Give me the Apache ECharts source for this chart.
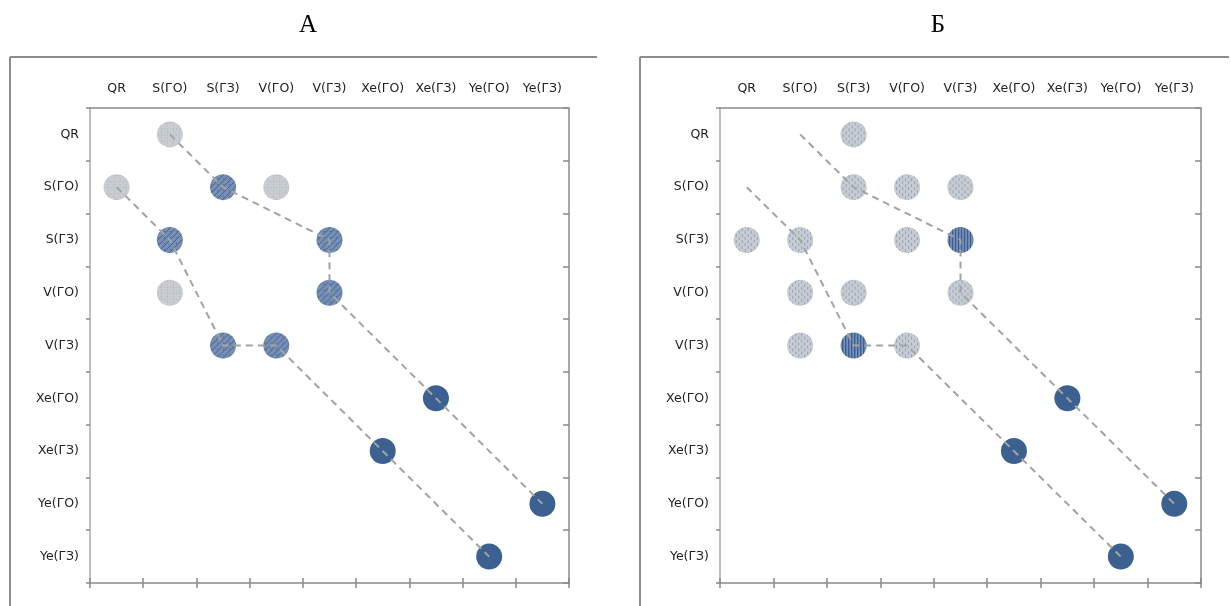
<!DOCTYPE html>
<html><head><meta charset="utf-8">
<script src="https://cdn.jsdelivr.net/npm/echarts@6/dist/echarts.min.js"></script>
<style>html,body{margin:0;padding:0;background:#fff}#c{width:1231px;height:606px}</style>
</head><body><div id="c"></div>
<script>
const categories = ['QR','S(ГО)','S(ГЗ)','V(ГО)','V(ГЗ)','Xe(ГО)','Xe(ГЗ)','Ye(ГО)','Ye(ГЗ)'];
const panelTitles = ['А','Б'];

// Panel A points [column, row]
const aGray = [['S(ГО)','QR'],['QR','S(ГО)'],['V(ГО)','S(ГО)'],['S(ГО)','V(ГО)']];
const aHatched = [['S(ГЗ)','S(ГО)'],['S(ГО)','S(ГЗ)'],['V(ГЗ)','S(ГЗ)'],['V(ГЗ)','V(ГО)'],['S(ГЗ)','V(ГЗ)'],['V(ГО)','V(ГЗ)']];
const aSolid = [['Xe(ГЗ)','Xe(ГО)'],['Xe(ГО)','Xe(ГЗ)'],['Ye(ГЗ)','Ye(ГО)'],['Ye(ГО)','Ye(ГЗ)']];
const aPath1 = [['S(ГО)','QR'],['S(ГЗ)','S(ГО)'],['V(ГЗ)','S(ГЗ)'],['V(ГЗ)','V(ГО)'],['Xe(ГЗ)','Xe(ГО)'],['Ye(ГЗ)','Ye(ГО)']];
const aPath2 = [['QR','S(ГО)'],['S(ГО)','S(ГЗ)'],['S(ГЗ)','V(ГЗ)'],['V(ГО)','V(ГЗ)'],['Xe(ГО)','Xe(ГЗ)'],['Ye(ГО)','Ye(ГЗ)']];

// Panel Б points
const bGray = [['S(ГЗ)','QR'],['S(ГЗ)','S(ГО)'],['V(ГО)','S(ГО)'],['V(ГЗ)','S(ГО)'],['QR','S(ГЗ)'],['S(ГО)','S(ГЗ)'],['V(ГО)','S(ГЗ)'],['S(ГО)','V(ГО)'],['S(ГЗ)','V(ГО)'],['V(ГЗ)','V(ГО)'],['S(ГО)','V(ГЗ)'],['V(ГО)','V(ГЗ)']];
const bHatched = [['V(ГЗ)','S(ГЗ)'],['S(ГЗ)','V(ГЗ)']];
const bSolid = [['Xe(ГЗ)','Xe(ГО)'],['Xe(ГО)','Xe(ГЗ)'],['Ye(ГЗ)','Ye(ГО)'],['Ye(ГО)','Ye(ГЗ)']];
const bPath1 = [['S(ГО)','QR'],['S(ГЗ)','S(ГО)'],['V(ГЗ)','S(ГЗ)'],['V(ГЗ)','V(ГО)'],['Xe(ГЗ)','Xe(ГО)'],['Ye(ГЗ)','Ye(ГО)']];
const bPath2 = [['QR','S(ГО)'],['S(ГО)','S(ГЗ)'],['S(ГЗ)','V(ГЗ)'],['V(ГО)','V(ГЗ)'],['Xe(ГО)','Xe(ГЗ)'],['Ye(ГО)','Ye(ГЗ)']];

const SYM = 26;
function pat(base, ink, kind){
  const c=document.createElement('canvas'); c.width=6; c.height=6;
  const g=c.getContext('2d'); g.fillStyle=base; g.fillRect(0,0,6,6);
  g.fillStyle=ink; g.strokeStyle=ink; g.lineWidth=1;
  if(kind==='dots'){ g.fillRect(0,0,1,1); g.fillRect(3,3,1,1); g.fillRect(3,0,1,1);}
  else if(kind==='diag'){ g.beginPath(); g.moveTo(0,6); g.lineTo(6,0); g.moveTo(-1,1); g.lineTo(1,-1); g.moveTo(5,7); g.lineTo(7,5); g.stroke(); g.fillRect(0,3,1,1);}
  else if(kind==='vdash'){ g.fillRect(1,0,1,3); g.fillRect(4,3,1,3);}
  else if(kind==='vstripe'){ g.fillRect(0,0,2,6); g.fillRect(3,0,2,6);}
  const s = 2/SYM;
  return {image:c, repeat:'repeat', scaleX:s, scaleY:s};
}
const fills = {
  aGray: pat('#c9ccd0','#a9b1be','dots'),
  aHatched: pat('#7890b4','#3f6093','diag'),
  bGray: pat('#c8cbcf','#8ea3c4','vdash'),
  bHatched: pat('#9fb1cb','#3b5f92','vstripe'),
  solid: '#3c6190'
};

const grids = [
  {left:90, top:108, width:479, height:475},
  {left:720, top:108, width:481, height:475}
];
const axisCol = '#8a8a8a';
const lblFont = {fontFamily:'DejaVu Sans', fontSize:12.5, color:'#222'};

const xAxis=[], yAxis=[], series=[];
grids.forEach((g,i)=>{
  xAxis.push({type:'category', gridIndex:i, position:'top', data:categories, boundaryGap:true,
    axisLine:{lineStyle:{color:axisCol,width:1.5}}, axisTick:{show:false},
    axisLabel:Object.assign({margin:13, interval:0}, lblFont)});
  xAxis.push({type:'category', gridIndex:i, position:'bottom', data:categories, boundaryGap:true,
    axisLine:{lineStyle:{color:axisCol,width:1.5}}, axisTick:{show:true,interval:0,length:5,lineStyle:{color:axisCol,width:1.5}},
    axisLabel:{show:false}});
  xAxis.push({type:'category', gridIndex:i, position:'bottom', data:categories, boundaryGap:true,
    axisLine:{show:false}, axisTick:{show:true,inside:true,interval:0,length:5,lineStyle:{color:axisCol,width:1.5}},
    axisLabel:{show:false}});
  yAxis.push({type:'category', gridIndex:i, position:'left', inverse:true, data:categories, boundaryGap:true,
    axisLine:{lineStyle:{color:'#a8a8a8',width:1.5}}, axisTick:{show:true,interval:0,length:4,lineStyle:{color:axisCol,width:1.5}},
    axisLabel:Object.assign({margin:11, interval:0}, lblFont)});
  yAxis.push({type:'category', gridIndex:i, position:'right', inverse:true, data:categories, boundaryGap:true,
    axisLine:{lineStyle:{color:axisCol,width:1.5}}, axisTick:{show:true,inside:true,interval:0,length:6,lineStyle:{color:axisCol,width:1.5}},
    axisLabel:{show:false}});
});

function scatter(i, data, color){
  return {type:'scatter', xAxisIndex:i*3, yAxisIndex:i*2, data:data, symbolSize:SYM,
    itemStyle:{color:color, opacity:1}, z:2, silent:true};
}
function path(i, data){
  return {type:'line', xAxisIndex:i*3, yAxisIndex:i*2, data:data, showSymbol:false, symbol:'none',
    lineStyle:{color:'#a3a3a3', width:2, type:[7,5]}, z:3, silent:true};
}
series.push(scatter(0,aGray,fills.aGray), scatter(0,aHatched,fills.aHatched), scatter(0,aSolid,fills.solid),
  path(0,aPath1), path(0,aPath2));
series.push(scatter(1,bGray,fills.bGray), scatter(1,bHatched,fills.bHatched), scatter(1,bSolid,fills.solid),
  path(1,bPath1), path(1,bPath2));

const frameStyle={stroke:'#8c8c8c', lineWidth:2};
const graphic=[
  {type:'line', shape:{x1:10,y1:57,x2:597,y2:57}, style:frameStyle},
  {type:'line', shape:{x1:10,y1:57,x2:10,y2:606}, style:frameStyle},
  {type:'line', shape:{x1:640,y1:57,x2:1229,y2:57}, style:frameStyle},
  {type:'line', shape:{x1:640,y1:57,x2:640,y2:606}, style:frameStyle}
];

const chart=echarts.init(document.getElementById('c'));
chart.setOption({
  animation:false,
  backgroundColor:'#fff',
  title:[
    {text:panelTitles[0], left:303, top:8, textAlign:'center', textStyle:{fontFamily:'Liberation Serif', fontSize:25, fontWeight:'normal', color:'#000'}},
    {text:panelTitles[1], left:933, top:8, textAlign:'center', textStyle:{fontFamily:'Liberation Serif', fontSize:25, fontWeight:'normal', color:'#000'}}
  ],
  grid:grids, xAxis:xAxis, yAxis:yAxis, series:series, graphic:graphic
});
</script></body></html>
